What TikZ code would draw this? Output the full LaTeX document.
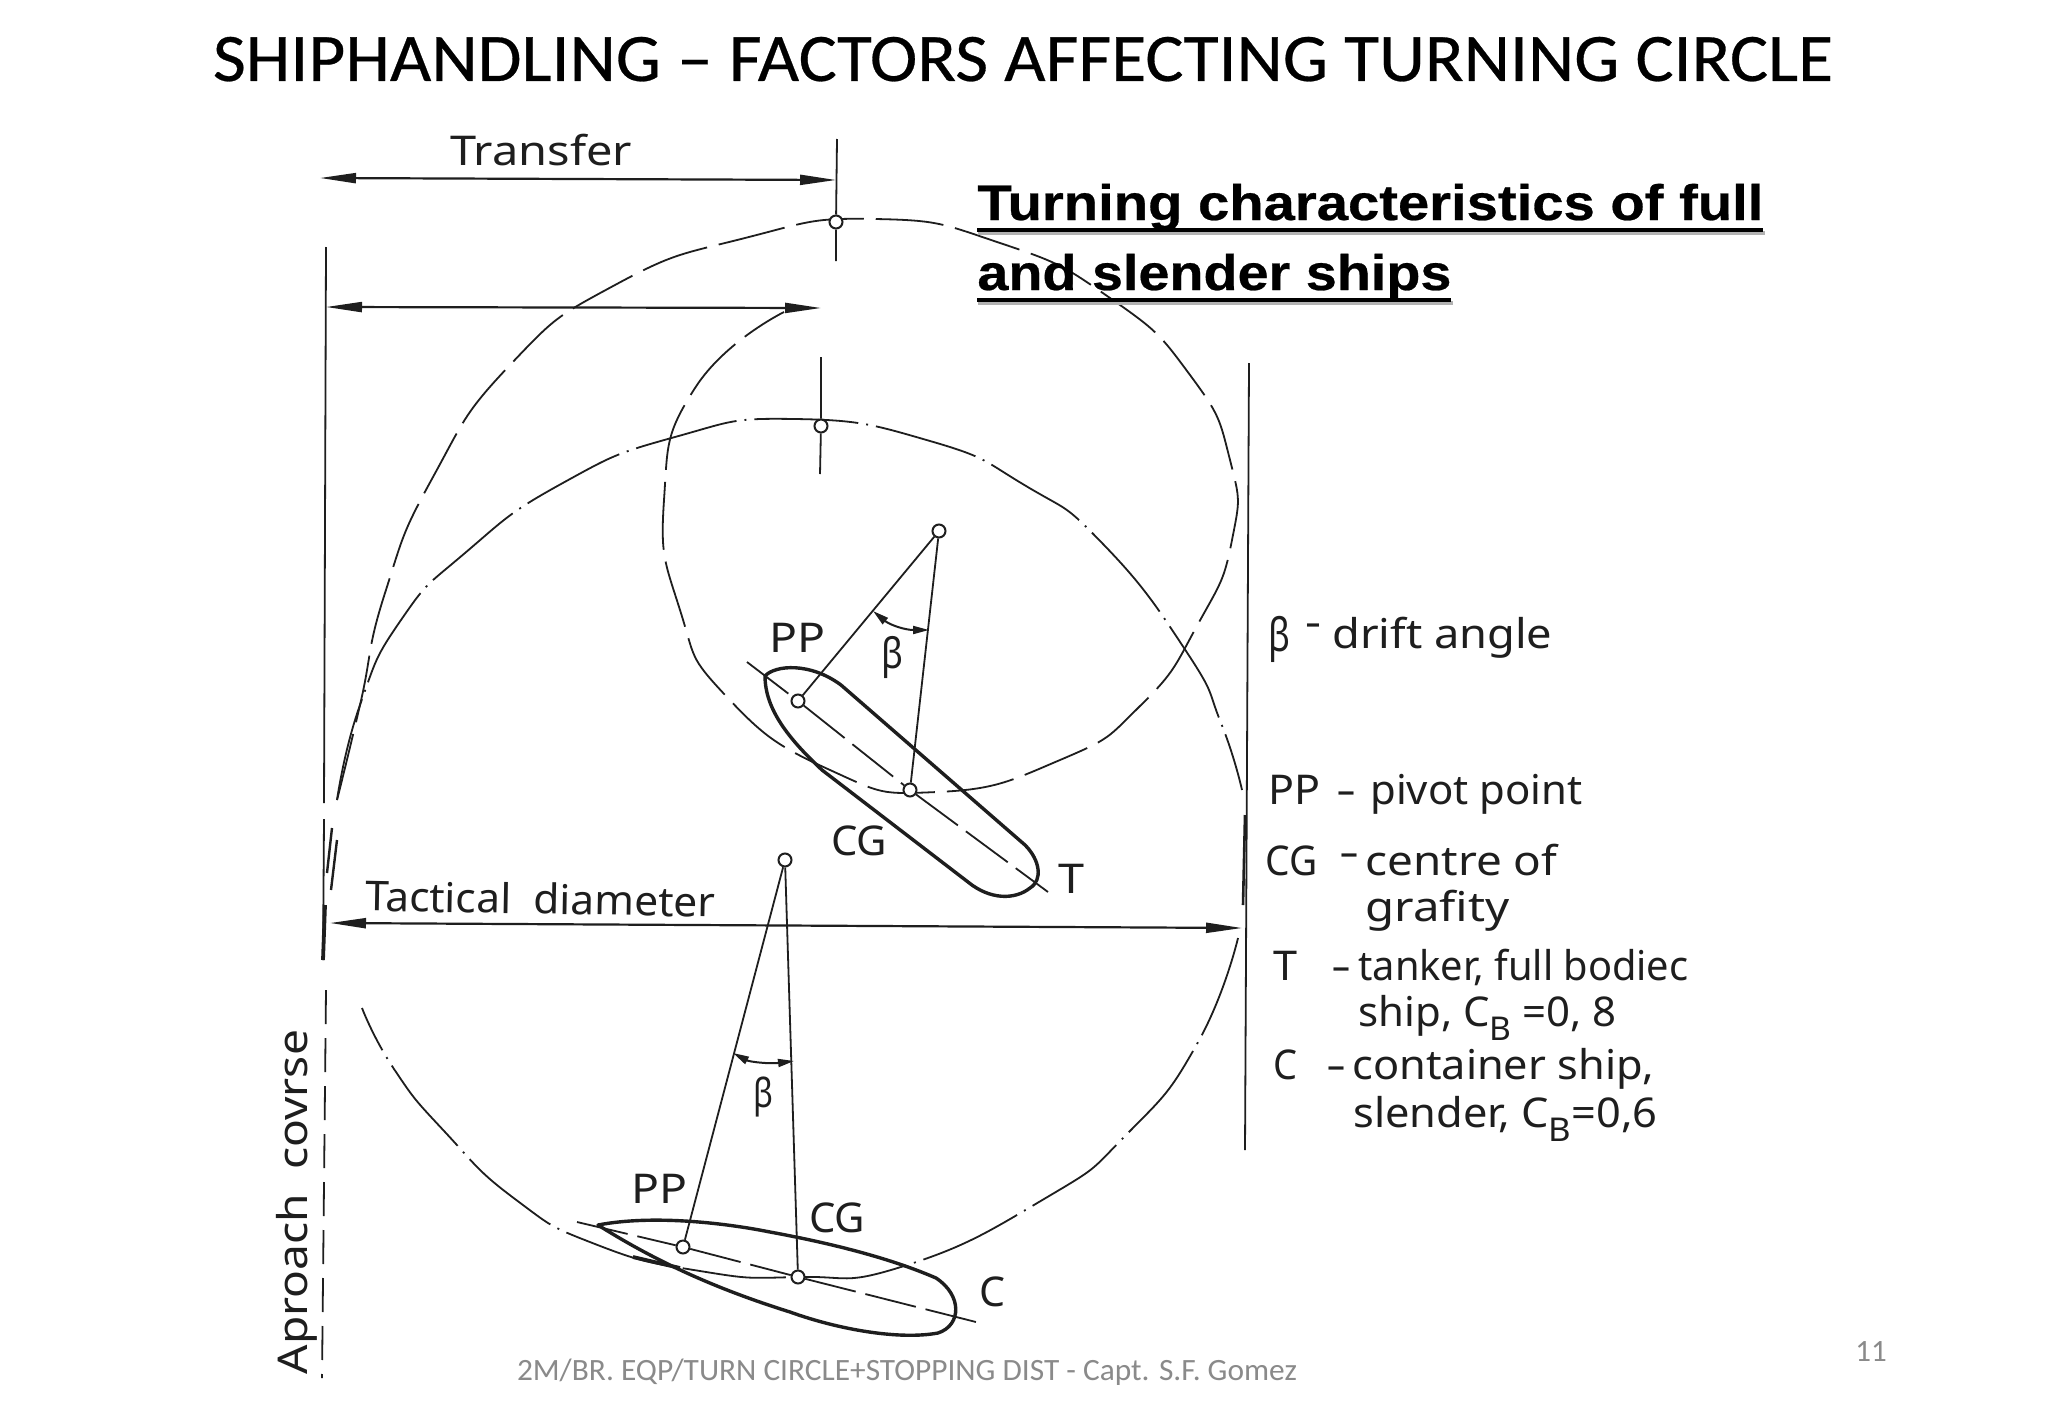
\documentclass[tikz,border=0pt]{standalone}
\usepackage{fontspec}
\setmainfont{Noto Sans}
\newfontfamily\calibrif{Carlito}
\newfontfamily\titlef[FakeBold=0.4]{Carlito}
\newfontfamily\headf[FakeBold=0.5]{Liberation Sans}
\usetikzlibrary{arrows.meta}
\newcommand{\tw}[2]{\resizebox{#1pt}{\height}{#2}}
\tikzset{
  x=0.5pt,y=-0.5pt,
  pt/.style={circle,draw=inkc,fill=white,inner sep=0pt,minimum size=6.5pt,line width=1pt},
  lab/.style={inner sep=0pt,anchor=base west,text=inkc,font=\fontsize{20.5}{24}\selectfont},
  fine/.style={draw=inkc,line width=0.9pt},
  heavy/.style={draw=inkc,line width=1.9pt},
  hull/.style={draw=inkc,line width=1.7pt,line join=round},
  dim/.style={draw=inkc,line width=1.1pt,{Triangle[length=18pt,width=5pt]}-{Triangle[length=18pt,width=5pt]}},
  ang/.style={draw=inkc,line width=1pt,{Triangle[length=8pt,width=4pt]}-{Triangle[length=8pt,width=4pt]}},
  trackA/.style={draw=inkc,line width=0.9pt,dash pattern=on 34pt off 6pt},
  trackB/.style={draw=inkc,line width=0.9pt,dash pattern=on 52pt off 4pt on 1pt off 4pt},
  centre/.style={draw=inkc,line width=0.9pt,dash pattern=on 26pt off 5pt},
  approach/.style={draw=inkc,line width=0.9pt,dash pattern=on 17pt off 7pt}
}
\definecolor{inkc}{HTML}{1E1E1E}
\definecolor{foot}{HTML}{8A8A8A}
\begin{document}
\begin{tikzpicture}
\useasboundingbox (0,0) rectangle (2048,1418);
\fill[white] (0,0) rectangle (2048,1418);

% title
\node[inner sep=0pt,anchor=base] (title) at (1023,81) {\titlef\fontsize{34}{40}\selectfont\tw{810}{SHIPHANDLING – FACTORS AFFECTING TURNING CIRCLE}};

% tracks
\draw[trackA] plot[smooth,tension=0.9] coordinates {(337,800) (360,705) (385,593) (433,477) (510,365) (615,285) (745,238) (875,219) (1000,243) (1110,298) (1190,375) (1230,460) (1232,540) (1198,624) (1141,705) (1060,760) (937,792) (830,770) (726,696) (680,610) (664,500) (695,388) (784,312)};
\draw[trackB] plot[smooth,tension=0.9] coordinates {(337,800) (360,705) (401,620) (465,553) (561,484) (675,437) (795,419) (930,441) (1026,486) (1103,544) (1186,651) (1221,723) (1242,790)};
\draw[trackB] plot[smooth,tension=0.9] coordinates {(1238,938) (1197,1044) (1127,1134) (1044,1199) (904,1266) (798,1277) (700,1271) (595,1244) (515,1199) (445,1132) (394,1069) (362,1008)};
\draw[heavy] (633,1257) -- (680,1268);

% reference verticals
\node[pt] (atop) at (836,222) {};
\node[pt] (btop) at (821,426) {};
\coordinate (a1) at (837,139); \coordinate (a2) at (836,261);
\coordinate (b1) at (821,357); \coordinate (b2) at (820,474);
\coordinate (l1) at (326,247); \coordinate (l2) at (324,803);
\coordinate (l3) at (324,819); \coordinate (l4) at (323,960);
\coordinate (l5) at (325,905);
\coordinate (r1) at (1249,363); \coordinate (r2) at (1245,1150);
\coordinate (ap1) at (326,990); \coordinate (ap2) at (322,1378);
\draw[fine] (a1) -- (atop) -- (a2);
\draw[fine] (b1) -- (btop) -- (b2);
\draw[fine] (l1) -- (l2);
\draw[fine] (l3) -- (l4);
\draw[heavy] (l5) -- (l4);
\draw[fine] (r1) -- (r2);
\draw[approach] (ap1) -- (ap2);
% track ends at the left and right
\draw[heavy,line width=1.2pt] (332,828) -- (327,873);
\draw[heavy,line width=1.2pt] (337,840) -- (331,890);
\draw[heavy,line width=1.3pt] (1245,815) -- (1243,905);

% dimensions
\coordinate (tr1) at (320,178); \coordinate (tr2) at (836,180);
\coordinate (ad1) at (326,307); \coordinate (ad2) at (821,308);
\coordinate (td1) at (330,923); \coordinate (td2) at (1242,928);
\draw[dim] (tr1) -- (tr2);
\draw[dim] (ad1) -- (ad2);
\draw[dim] (td1) -- (td2);
\node[lab,anchor=base] (ltransfer) at (541,165) {\tw{91}{Transfer}};
\node[lab,anchor=base,rotate=-1] (ltact) at (540,914) {\tw{175}{Tactical~~diameter}};
\node[lab,anchor=base,rotate=90] (lapp) at (307,1202) {\tw{172}{Aproach~~covrse}};

% tanker
\draw[hull] (841,685) -- (1025,845) .. controls (1040,860) and (1043,880) .. (1030,888) .. controls (1015,900) and (990,900) .. (968,882) -- (822,770) .. controls (790,740) and (765,710) .. (765,676) .. controls (775,665) and (810,662) .. (841,685) -- cycle;
\node[pt] (tpp) at (798,701) {};
\node[pt] (tcg) at (910,790) {};
\node[pt] (tap) at (939,531) {};
\coordinate (tc1) at (747,662); \coordinate (tc2) at (1048,892);
\draw[centre] (tc1) -- (tpp) -- (tcg) -- (tc2);
\draw[fine] (tap) -- (tpp);
\draw[fine] (tap) -- (tcg);
\coordinate (ta1) at (873,611); \coordinate (ta2) at (929,630);
\draw[ang] (ta1) .. controls (890,625) and (905,630) .. (ta2);
\node[lab,anchor=base,font=\fontsize{21}{25}\selectfont] (tbeta) at (892,668) {\tw{11}{β}};
\node[lab,anchor=base] (tlpp) at (797,652) {\tw{28}{PP}};
\node[lab,anchor=base] (tlcg) at (859,855) {\tw{28}{CG}};
\node[lab,anchor=base] (tlt) at (1071,893) {\tw{13}{T}};

% container ship
\draw[hull] (598,1225) .. controls (650,1215) and (720,1222) .. (770,1232) .. controls (830,1243) and (890,1258) .. (936,1278) .. controls (962,1295) and (962,1325) .. (938,1333) .. controls (900,1340) and (840,1330) .. (790,1312) .. controls (720,1290) and (660,1264) .. (598,1225) -- cycle;
\node[pt] (cpp) at (683,1247) {};
\node[pt] (ccg) at (798,1277) {};
\node[pt] (cap) at (785,860) {};
\coordinate (cc1) at (577,1222); \coordinate (cc2) at (976,1322);
\draw[centre] (cc1) -- (cpp) -- (ccg) -- (cc2);
\draw[fine] (cap) -- (cpp);
\draw[fine] (cap) -- (ccg);
\coordinate (ca1) at (733,1053); \coordinate (ca2) at (794,1061);
\draw[ang] (ca1) .. controls (750,1062) and (770,1064) .. (ca2);
\node[lab,anchor=base,font=\fontsize{20}{24}\selectfont] (cbeta) at (763,1107) {\tw{10}{β}};
\node[lab,anchor=base] (clpp) at (659,1203) {\tw{28}{PP}};
\node[lab,anchor=base] (clcg) at (837,1232) {\tw{28}{CG}};
\node[lab,anchor=base] (clc) at (992,1306) {\tw{13}{C}};

% heading
\node[inner sep=0pt,anchor=base west] (h1) at (977,220) {\headf\bfseries\fontsize{25}{30}\selectfont\tw{393}{Turning characteristics of full}};
\node[inner sep=0pt,anchor=base west] (h2) at (977,290) {\headf\bfseries\fontsize{25}{30}\selectfont\tw{237}{and slender ships}};
\draw[gray!60,line width=2.4pt] (978,233) -- (1765,233);
\draw[gray!60,line width=2.4pt] (978,303) -- (1453,303);
\draw[black,line width=2.4pt] (977,230) -- (1763,230);
\draw[black,line width=2.4pt] (977,300) -- (1451,300);

% legend
\node[lab,font=\fontsize{23}{27}\selectfont] (k1) at (1268,651) {\tw{11}{β}};
\node[lab] (k1d) at (1305,636) {\tw{8}{-}};
\node[lab] (k1t) at (1332,648) {\tw{110}{drift angle}};
\node[lab] (k2) at (1268,804) {\tw{26}{PP}};
\node[lab] (k2d) at (1336,804) {\tw{10}{-}};
\node[lab] (k2t) at (1370,804) {\tw{106}{pivot~point}};
\node[lab] (k3) at (1265,875) {\tw{26}{CG}};
\node[lab] (k3d) at (1339,866) {\tw{10}{-}};
\node[lab] (k3t) at (1365,875) {\tw{96}{centre~of}};
\node[lab] (k3u) at (1365,921) {\tw{72}{grafity}};
\node[lab] (k4) at (1273,980) {\tw{12}{T}};
\node[lab] (k4d) at (1331,980) {\tw{10}{-}};
\node[lab] (k4t) at (1358,980) {\tw{165}{tanker, full bodiec}};
\node[lab] (k4u) at (1358,1026) {\tw{129}{ship, C\raisebox{-.35em}{\scalebox{.8}{B}} =0, 8}};
\node[lab] (k5) at (1273,1079) {\tw{12}{C}};
\node[lab] (k5d) at (1326,1079) {\tw{10}{-}};
\node[lab] (k5t) at (1352,1079) {\tw{151}{container ship,}};
\node[lab] (k5u) at (1353,1127) {\tw{152}{slender, C\raisebox{-.35em}{\scalebox{.8}{B}}=0,6}};

% footer
\node[inner sep=0pt,anchor=base] (foot) at (907,1380) {\calibrif\color{foot}\fontsize{15.5}{18}\selectfont\tw{390}{2M/BR. EQP/TURN CIRCLE+STOPPING DIST - Capt. S.F. Gomez}};
\node[inner sep=0pt,anchor=base] (page) at (1871,1361) {\calibrif\color{foot}\fontsize{15.5}{18}\selectfont 11};
\end{tikzpicture}
\end{document}
